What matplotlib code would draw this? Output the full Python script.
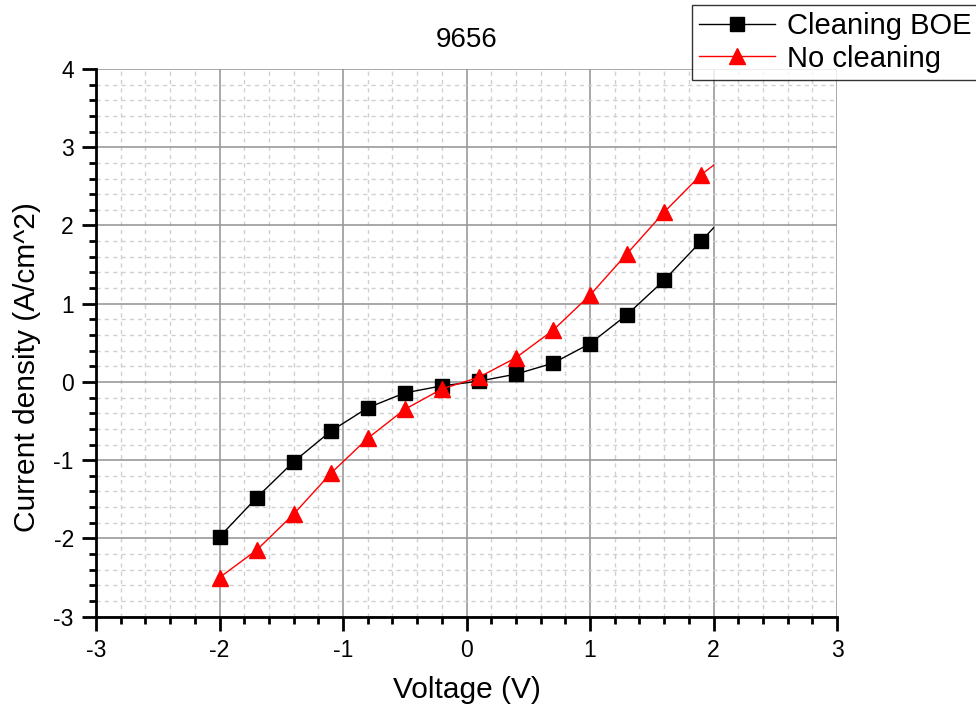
import matplotlib.pyplot as plt
from matplotlib.ticker import MultipleLocator

plt.rcParams['font.family'] = ['Liberation Sans', 'DejaVu Sans']
plt.rcParams['axes.unicode_minus'] = False

# J-V data, markers every 0.3 V; the trace ends at 2 V without a symbol
voltage = [-2.0, -1.7, -1.4, -1.1, -0.8, -0.5, -0.2, 0.1, 0.4, 0.7, 1.0, 1.3, 1.6, 1.9, 2.0]
j_boe = [-1.98, -1.48, -1.02, -0.63, -0.33, -0.14, -0.05, 0.01, 0.10, 0.24,
         0.49, 0.86, 1.30, 1.80, 1.97]
j_none = [-2.50, -2.15, -1.69, -1.17, -0.72, -0.35, -0.09, 0.06, 0.31, 0.66,
          1.11, 1.64, 2.17, 2.65, 2.77]

fig = plt.figure(figsize=(9.76, 7.08), dpi=100)
ax = fig.add_axes([0.0984, 0.129, 0.7592, 0.7735])

marks = list(range(len(voltage) - 1))
ax.plot(voltage, j_boe, color='black', lw=1, marker='s', ms=10,
        markevery=marks, label='Cleaning BOE', zorder=3)
ax.plot(voltage, j_none, color='red', lw=1, marker='^', ms=12,
        markevery=marks, label='No cleaning', zorder=3)

ax.set_xlim(-3, 3)
ax.set_ylim(-3, 4)
ax.xaxis.set_major_locator(MultipleLocator(1))
ax.xaxis.set_minor_locator(MultipleLocator(0.2))
ax.yaxis.set_major_locator(MultipleLocator(1))
ax.yaxis.set_minor_locator(MultipleLocator(0.2))

ax.grid(which='major', color='#999999', lw=1.2, ls='-', zorder=0)
ax.grid(which='minor', color='#d0d0d0', lw=1, ls=(0, (3, 3)), zorder=0)
ax.set_axisbelow(True)

for s in ['top', 'right']:
    ax.spines[s].set_visible(False)
for s in ['left', 'bottom']:
    ax.spines[s].set_linewidth(2)

ax.tick_params(which='major', direction='out', length=10, width=2,
               labelsize=16.5, pad=6)
ax.tick_params(which='minor', direction='out', length=5, width=2)

ax.set_xlabel('Voltage (V)', fontsize=21.5, labelpad=10)
ax.set_ylabel('Current density (A/cm^2)', fontsize=21.5)
ax.yaxis.set_label_coords(-0.074, 0.456)
ax.set_title('9656', fontsize=20, pad=16)

leg = fig.legend(loc='upper left', bbox_to_anchor=(0.709, 0.993),
                 fontsize=21, frameon=True, fancybox=False, edgecolor='black',
                 handlelength=2.6, handletextpad=0.4, borderpad=0.25,
                 labelspacing=0.15, borderaxespad=0)
leg.get_frame().set_linewidth(1)

fig.savefig('out.png', dpi=100)
